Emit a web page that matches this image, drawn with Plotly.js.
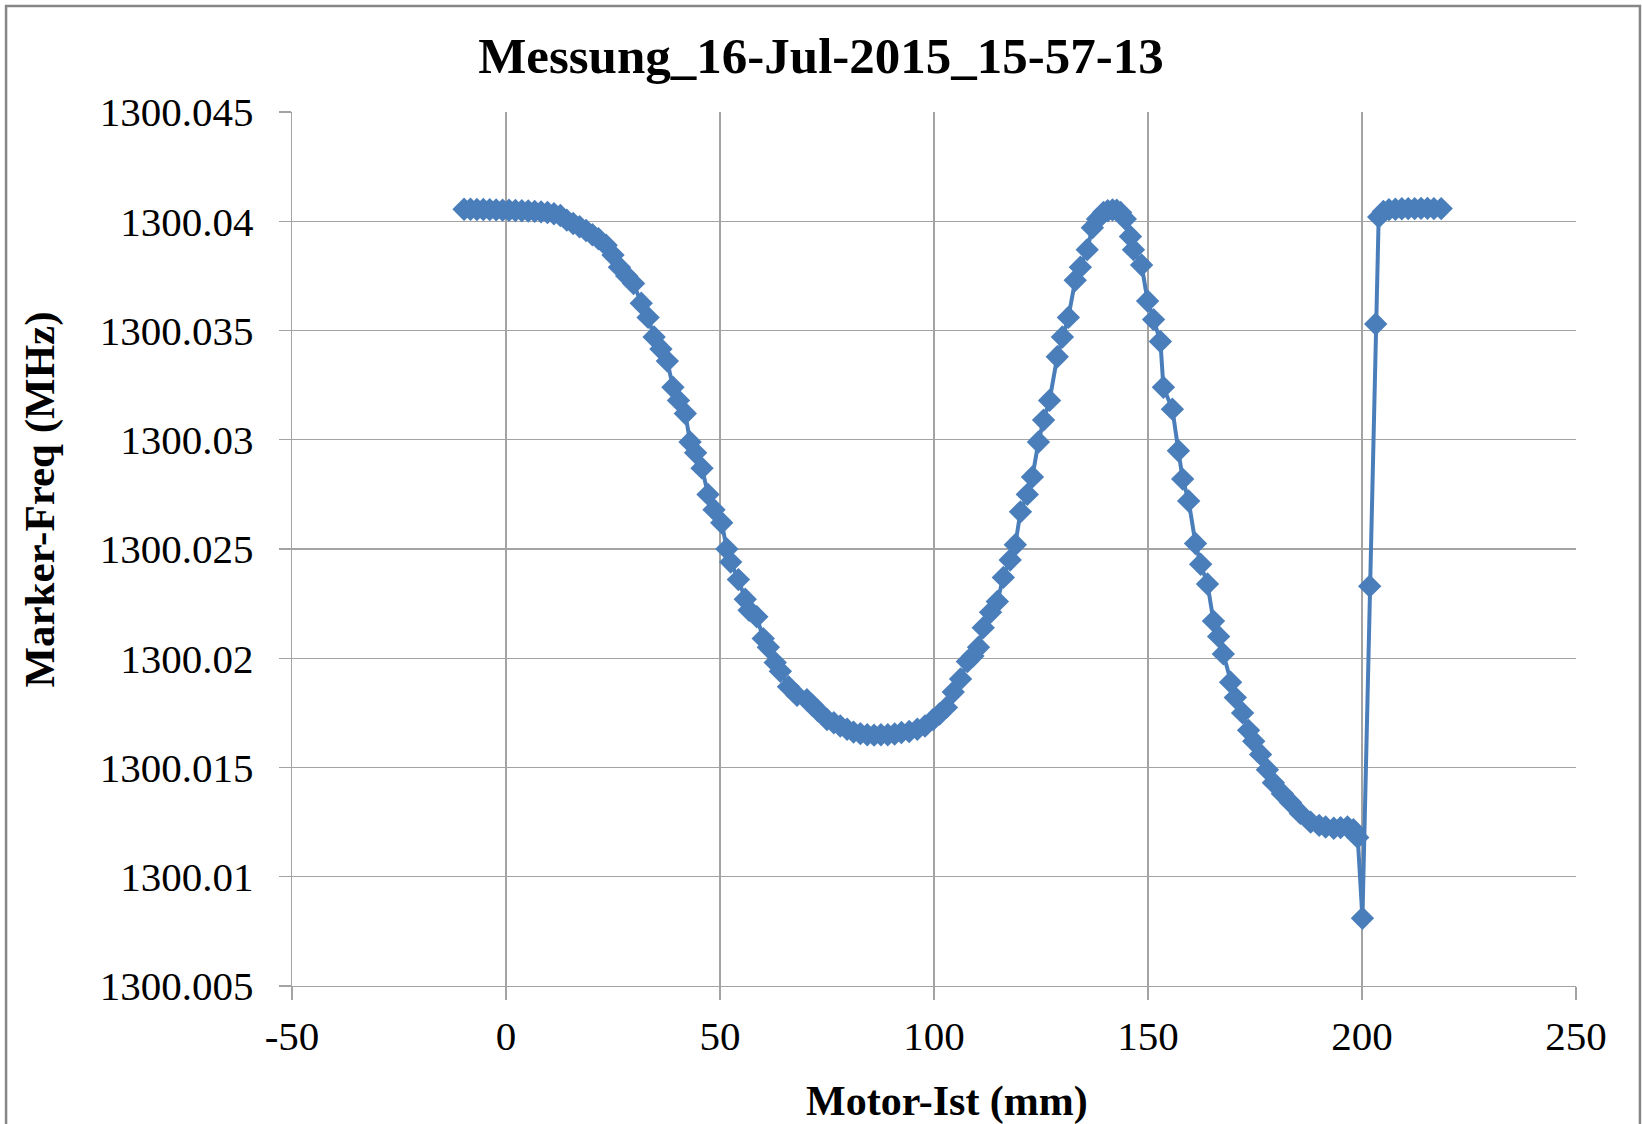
<!DOCTYPE html>
<html>
<head>
<meta charset="utf-8">
<script src="https://cdn.plot.ly/plotly-3.0.1.min.js"></script>
<style>html,body{margin:0;padding:0;background:#fff;}#chart{width:1642px;height:1124px;}</style>
</head>
<body>
<div id="chart"></div>
<script>
const motorIst = [
  -9.8, -8.3, -6.8, -5.3, -3.8, -2.3, -0.8, 0.7, 2.2, 3.7, 5.2, 6.7, 8.2, 9.7, 11.2, 12.7,
  14.2, 15.7, 17.2, 18.7, 20.2, 21.6, 23.4, 25.0, 26.5, 28.2, 29.8, 31.6, 33.2, 34.6, 36.2, 37.7,
  39.0, 40.3, 41.9, 43.0, 44.3, 45.8, 47.2, 48.6, 50.4, 51.6, 52.5, 54.3, 55.9, 56.8, 58.6, 60.1,
  61.3, 62.9, 64.1, 66.0, 68.0, 70.3, 71.6, 72.9, 75.0, 76.6, 78.1, 79.7, 81.2, 82.8, 84.4, 86.0,
  87.6, 89.2, 90.8, 92.4, 94.2, 96.1, 97.9, 99.8, 101.3, 102.9, 104.5, 106.2, 107.8, 109.1, 110.4, 111.5,
  113.2, 114.8, 116.2, 117.8, 119.0, 120.2, 121.8, 123.0, 124.4, 125.6, 127.0, 128.8, 130.0, 131.4, 133.0, 134.2,
  135.8, 137.0, 138.2, 139.6, 140.6, 141.7, 142.7, 143.6, 144.7, 145.9, 146.6, 148.5, 149.9, 151.3, 152.9, 153.6,
  155.7, 157.1, 158.1, 159.5, 161.1, 162.3, 163.9, 165.3, 166.5, 167.6, 169.3, 170.4, 172.1, 173.5, 174.7, 176.3,
  177.9, 179.3, 181.4, 183.3, 185.6, 188.0, 190.0, 191.5, 193.4, 195.0, 196.6, 198.0, 199.0, 200.1, 201.8, 203.2,
  203.9, 205.0, 206.3, 207.8, 209.3, 210.8, 212.3, 213.8, 215.3, 216.8, 218.5
];
const markerFreq = [
  1300.04055, 1300.04055, 1300.04054, 1300.04054, 1300.04053, 1300.04052, 1300.04051, 1300.04050, 1300.04049, 1300.04048, 1300.04047, 1300.04045, 1300.04043, 1300.04040, 1300.04034, 1300.04026,
  1300.04005, 1300.03990, 1300.03975, 1300.03958, 1300.03938, 1300.03920, 1300.03890, 1300.03845, 1300.03790, 1300.03750, 1300.03715, 1300.03625, 1300.03560, 1300.03470, 1300.03415, 1300.03360,
  1300.03240, 1300.03180, 1300.03120, 1300.02990, 1300.02940, 1300.02870, 1300.02750, 1300.02680, 1300.02620, 1300.02500, 1300.02440, 1300.02360, 1300.02270, 1300.02220, 1300.02190, 1300.02090,
  1300.02050, 1300.01980, 1300.01940, 1300.01870, 1300.01830, 1300.01810, 1300.01785, 1300.01760, 1300.01720, 1300.01705, 1300.01690, 1300.01675, 1300.01662, 1300.01655, 1300.01650, 1300.01648,
  1300.01650, 1300.01650, 1300.01653, 1300.01660, 1300.01665, 1300.01675, 1300.01690, 1300.01720, 1300.01745, 1300.01775, 1300.01845, 1300.01905, 1300.01985, 1300.02010, 1300.02050, 1300.02140,
  1300.02210, 1300.02260, 1300.02370, 1300.02450, 1300.02520, 1300.02670, 1300.02750, 1300.02830, 1300.02990, 1300.03090, 1300.03180, 1300.03380, 1300.03470, 1300.03560, 1300.03730, 1300.03790,
  1300.03870, 1300.03970, 1300.04010, 1300.04040, 1300.04048, 1300.04052, 1300.04050, 1300.04040, 1300.04010, 1300.03930, 1300.03870, 1300.03800, 1300.03635, 1300.03550, 1300.03450, 1300.03240,
  1300.03140, 1300.02950, 1300.02820, 1300.02720, 1300.02525, 1300.02430, 1300.02340, 1300.02170, 1300.02100, 1300.02020, 1300.01890, 1300.01820, 1300.01750, 1300.01670, 1300.01620, 1300.01560,
  1300.01490, 1300.01430, 1300.01380, 1300.01340, 1300.01290, 1300.01250, 1300.01235, 1300.01228, 1300.01222, 1300.01225, 1300.01228, 1300.01215, 1300.01180, 1300.00810, 1300.02330, 1300.03530,
  1300.04020, 1300.04045, 1300.04053, 1300.04055, 1300.04057, 1300.04058, 1300.04058, 1300.04059, 1300.04059, 1300.04058, 1300.04058
];
const xTickVals = [-50, 0, 50, 100, 150, 200, 250];
const yTickVals = [1300.005, 1300.01, 1300.015, 1300.02, 1300.025, 1300.03, 1300.035, 1300.04, 1300.045];
const yTickLabels = ['1300.005', '1300.01', '1300.015', '1300.02', '1300.025', '1300.03', '1300.035', '1300.04', '1300.045'];
const chartTitle = 'Messung_16-Jul-2015_15-57-13';
const xTitle = 'Motor-Ist (mm)';
const yTitle = 'Marker-Freq (MHz)';

const serif = 'Liberation Serif, Times New Roman, serif';
const gridCol = '#a3a3a3';

const trace = {
  x: motorIst, y: markerFreq, type: 'scatter', mode: 'lines+markers',
  line: {color: '#4a7ebb', width: 4},
  marker: {symbol: 'diamond', size: 18, color: '#4a7ebb', line: {width: 0}},
  hoverinfo: 'skip'
};

const layout = {
  width: 1642, height: 1124,
  margin: {l: 292, r: 66, t: 112, b: 138},
  paper_bgcolor: '#ffffff', plot_bgcolor: '#ffffff',
  showlegend: false,
  font: {family: serif, color: '#000', size: 41},
  title: {text: '<b>' + chartTitle + '</b>', font: {family: serif, size: 51, color: '#000'},
          xref: 'container', x: 0.5, xanchor: 'center', yref: 'container', y: 0.951, yanchor: 'middle'},
  xaxis: {
    range: [-50, 250], tickvals: xTickVals, ticktext: xTickVals.map(String),
    showgrid: true, gridcolor: gridCol, gridwidth: 1.3,
    showline: true, linecolor: gridCol, linewidth: 1.3,
    ticks: 'outside', ticklen: 13, tickcolor: gridCol, tickwidth: 1.3,
    zeroline: false, tickfont: {family: serif, size: 41, color: '#000'}
  },
  yaxis: {
    range: [1300.005, 1300.045], tickvals: yTickVals, ticktext: yTickLabels,
    showgrid: true, gridcolor: gridCol, gridwidth: 1.3,
    showline: true, linecolor: gridCol, linewidth: 1.3,
    ticks: 'outside', ticklen: 12, tickcolor: gridCol, tickwidth: 1.3,
    ticklabelstandoff: 17,
    zeroline: false, tickfont: {family: serif, size: 41, color: '#000'}
  },
  annotations: [
    {text: '<b>' + xTitle + '</b>', xref: 'paper', yref: 'paper', x: 0.510, y: -0.1323,
     xanchor: 'center', yanchor: 'middle', showarrow: false,
     font: {family: serif, size: 42, color: '#000'}},
    {text: '<b>' + yTitle + '</b>', xref: 'paper', yref: 'paper', x: -0.197, y: 0.5566,
     xanchor: 'center', yanchor: 'middle', showarrow: false, textangle: -90,
     font: {family: serif, size: 43, color: '#000'}}
  ],
  shapes: [{
    type: 'rect', xref: 'paper', yref: 'paper',
    x0: -0.2227, x1: 1.0498, y0: -0.17, y1: 1.1213,
    line: {color: '#868686', width: 2.5}, fillcolor: 'rgba(0,0,0,0)', layer: 'below'
  }]
};

Plotly.newPlot('chart', [trace], layout, {staticPlot: true, displayModeBar: false});
</script>
</body>
</html>
